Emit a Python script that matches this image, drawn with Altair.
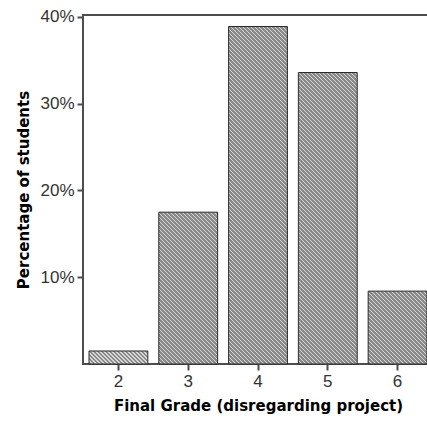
import altair as alt
import pandas as pd

grades = ["2", "3", "4", "5", "6"]
percent = [0.015, 0.175, 0.389, 0.336, 0.084]

df = pd.DataFrame({"grade": grades, "pct": percent})

FONT = "Liberation Sans"
TFONT = "DejaVu Sans"
W, H = 350, 349
YMAX = 0.4023
P_IN, P_OUT = 0.157, 0.086

# hatch fill: diagonal stripes built from a linear gradient sized to each bar
step = W / (len(grades) - P_IN + 2 * P_OUT)
bw = (1 - P_IN) * step
PERIOD = 4.0
DARK, LIGHT = "#8a8a8a", "#d6d6d6"


def hatch(value):
    w = bw
    h = max(value / YMAX * H, 1.0)
    L = w + h
    s = L / (w * w + h * h)
    x2 = w * s
    y2 = 1 - h * s
    stops = []
    n = int(L / PERIOD) + 1
    for i in range(n):
        a = i * PERIOD / L
        b = (i * PERIOD + PERIOD * 0.72) / L
        c = (i + 1) * PERIOD / L
        for off, col in ((a, DARK), (b, DARK), (b, LIGHT), (c, LIGHT)):
            if off <= 1:
                stops.append(alt.GradientStop(offset=round(off, 5), color=col))
    return alt.LinearGradient(gradient="linear", stops=stops,
                              x1=0, y1=1, x2=round(x2, 5), y2=round(y2, 5))


x_enc = alt.X("grade:N", sort=grades,
              scale=alt.Scale(domain=grades, paddingInner=P_IN, paddingOuter=P_OUT),
              axis=alt.Axis(title="Final Grade (disregarding project)", labelAngle=0,
                            domain=False, tickSize=6, tickWidth=2, tickColor="#4d4d4d",
                            labelFont=FONT, labelFontSize=17, labelColor="#333333",
                            labelPadding=3, titleFont=TFONT, titleFontSize=15,
                            titleFontWeight="bold", titleColor="#000000", titlePadding=9))
y_enc = alt.Y("pct:Q", scale=alt.Scale(domain=[0, YMAX], nice=False),
              axis=alt.Axis(title="Percentage of students", format=".0%",
                            values=[0.1, 0.2, 0.3, 0.4], grid=False, domain=False,
                            tickSize=6, tickWidth=2, tickColor="#4d4d4d",
                            labelFont=FONT, labelFontSize=17, labelColor="#333333",
                            labelPadding=3, titleFont=TFONT, titleFontSize=15,
                            titleFontWeight="bold", titleColor="#000000", titlePadding=8))

layers = []
for g, v in zip(grades, percent):
    layers.append(
        alt.Chart(df).transform_filter(alt.datum.grade == g).mark_bar(
            fill=hatch(v), stroke="#2a2a2a", strokeWidth=1
        ).encode(x=x_enc, y=y_enc)
    )

chart = alt.layer(*layers).properties(
    width=W, height=H,
    autosize=alt.AutoSizeParams(type="none"),
    padding={"left": 83, "top": 15, "right": -6, "bottom": 61},
).configure_view(
    stroke="#4d4d4d", strokeWidth=2
)

chart.save("out.html", embed_options={"renderer": "svg", "actions": False})
